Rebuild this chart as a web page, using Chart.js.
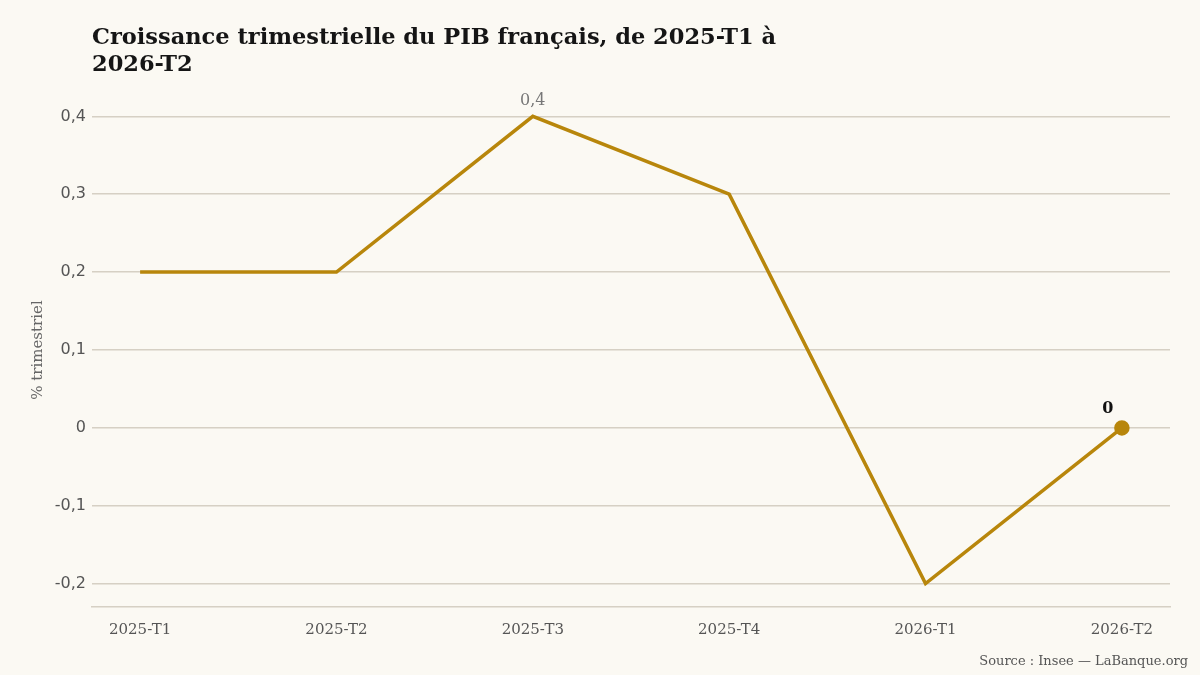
<!DOCTYPE html>
<html>
<head>
<meta charset="utf-8">
<script src="https://cdn.jsdelivr.net/npm/chart.js@4"></script>
<style>
  html, body { margin: 0; padding: 0; background: #fbf9f3; }
  #wrap { width: 1200px; height: 675px; }
</style>
</head>
<body>
<div id="wrap"><canvas id="myChart"></canvas></div>
<script>
// data
const quarters = ['2025-T1', '2025-T2', '2025-T3', '2025-T4', '2026-T1', '2026-T2'];
const growth = [0.2, 0.2, 0.4, 0.3, -0.2, 0];
const titleLines = ['Croissance trimestrielle du PIB français, de 2025-T1 à', '2026-T2'];
const yTitle = '% trimestriel';
const sourceText = 'Source : Insee — LaBanque.org';

const gold = '#b8860b';
const gridCol = '#d6d0c4';
const serif = '"DejaVu Serif", serif';

function frNum(v) {
    var r = Math.round(v * 10) / 10;
    return String(r).replace('.', ',');
}

// title, axis title, source, point labels
const decor = {
    id: 'decor',
    afterDraw(chart) {
        const c = chart.ctx;
        const area = chart.chartArea;
        const xs = chart.scales.x, ys = chart.scales.y;
        c.save();
        c.fillStyle = '#151515';
        c.font = 'bold 22.5px ' + serif;
        c.textAlign = 'left';
        c.textBaseline = 'alphabetic';
        c.fillText(titleLines[0], area.left, 44);
        c.fillText(titleLines[1], area.left, 71);

        c.fillStyle = '#666';
        c.font = '15px ' + serif;
        c.translate(38, (area.top + area.bottom) / 2);
        c.rotate(-Math.PI / 2);
        c.textAlign = 'center';
        c.textBaseline = 'middle';
        c.fillText(yTitle, 0, 0);
        c.restore();

        c.save();
        c.fillStyle = '#555';
        c.font = '13px ' + serif;
        c.textAlign = 'right';
        c.textBaseline = 'alphabetic';
        c.fillText(sourceText, 1188, 665);

        // max label
        const iMax = growth.indexOf(Math.max.apply(null, growth));
        c.fillStyle = '#777';
        c.font = '16px ' + serif;
        c.textAlign = 'center';
        c.fillText(frNum(growth[iMax]), xs.getPixelForValue(iMax), ys.getPixelForValue(growth[iMax]) - 11);

        // last label
        const iLast = growth.length - 1;
        c.fillStyle = '#111';
        c.font = 'bold 16px ' + serif;
        c.fillText(frNum(growth[iLast]), xs.getPixelForValue(iLast) - 14, ys.getPixelForValue(growth[iLast]) - 15);
        c.restore();
    }
};

const ctx = document.getElementById('myChart').getContext('2d');
const myChart = new Chart(ctx, {
    type: 'line',
    data: {
        datasets: [{
            data: growth.map((v, i) => ({ x: i, y: v })),
            borderColor: gold,
            backgroundColor: gold,
            borderWidth: 3.5,
            tension: 0,
            pointRadius: growth.map((v, i) => i === growth.length - 1 ? 6 : 0),
            pointHoverRadius: 0
        }]
    },
    options: {
        responsive: true,
        maintainAspectRatio: false,
        animation: false,
        layout: { padding: { top: 93, right: 30, bottom: 0, left: 0 } },
        plugins: {
            legend: { display: false },
            tooltip: { enabled: false }
        },
        scales: {
            x: {
                type: 'linear',
                min: -0.245,
                max: 5.245,
                afterFit(s) { s.height = 68; },
                afterBuildTicks(s) { s.ticks = quarters.map((q, i) => ({ value: i })); },
                grid: { display: false },
                border: { display: true, color: gridCol, width: 1.5 },
                ticks: {
                    padding: 6,
                    color: '#555',
                    font: { family: serif, size: 15 },
                    callback: (v) => quarters[v]
                }
            },
            y: {
                min: -0.23,
                max: 0.43,
                afterFit(s) { s.width = 92; },
                grid: { color: gridCol, lineWidth: 1.5, drawTicks: false },
                border: { display: false },
                ticks: {
                    stepSize: 0.1,
                    includeBounds: false,
                    padding: 6,
                    color: '#555',
                    font: { family: '"DejaVu Sans", sans-serif', size: 16 },
                    callback: (v) => frNum(v)
                }
            }
        }
    },
    plugins: [decor]
});
</script>
</body>
</html>
